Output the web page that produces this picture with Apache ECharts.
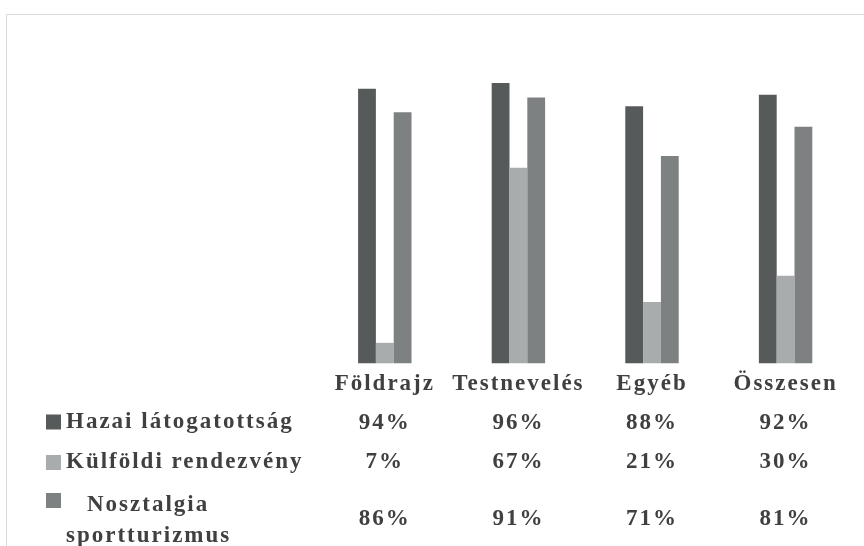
<!DOCTYPE html>
<html>
<head>
<meta charset="utf-8">
<script src="https://cdn.jsdelivr.net/npm/echarts@6/dist/echarts.min.js"></script>
<style>
html, body { margin: 0; padding: 0; background: #ffffff; }
#main { width: 864px; height: 546px; }
</style>
</head>
<body>
<div id="main"></div>
<script>
// ---- data ----
const categories = ['Földrajz', 'Testnevelés', 'Egyéb', 'Összesen'];
const seriesNames = ['Hazai látogatottság', 'Külföldi rendezvény', 'Nosztalgia sportturizmus'];
const hazai = [0.94, 0.96, 0.88, 0.92];
const kulfoldi = [0.07, 0.67, 0.21, 0.30];
const nosztalgia = [0.86, 0.91, 0.71, 0.81];
const seriesValues = [hazai, kulfoldi, nosztalgia];

// ---- style ----
const colors = ['#575a5b', '#a9acad', '#7e8182'];
const FONT = { fontFamily: 'Liberation Serif', fontSize: 23, fontWeight: 'bold', color: '#404040' };
const pct = v => Math.round(v * 100) + '%';

const chart = echarts.init(document.getElementById('main'), null, { renderer: 'canvas' });

const tableOffsets = [48.7, 87.2, 144.2];

const xAxes = [{
  type: 'category', data: categories, position: 'bottom', offset: 0,
  axisLine: { show: false }, axisTick: { show: false }, splitLine: { show: false },
  axisLabel: Object.assign({}, FONT, { margin: 9, interval: 0, lineHeight: 23 })
}];
seriesValues.forEach((vals, k) => {
  xAxes.push({
    type: 'category', data: categories, position: 'bottom', offset: tableOffsets[k],
    axisLine: { show: false }, axisTick: { show: false }, splitLine: { show: false },
    axisLabel: Object.assign({}, FONT, { margin: 0, interval: 0, lineHeight: 23,
      formatter: (v, i) => pct(vals[i]) })
  });
});

const option = {
  animation: false,
  backgroundColor: '#ffffff',
  graphic: [{
    type: 'rect', z: -10, silent: true,
    shape: { x: 6.5, y: 14.5, width: 900, height: 600 },
    style: { fill: 'none', stroke: '#d9d9d9', lineWidth: 1 }
  }],
  grid: { left: 318, right: 11.6, top: 71.3, bottom: 182.7, containLabel: false, outerBoundsMode: 'none' },
  legend: [{
    data: [seriesNames[0], seriesNames[1]],
    orient: 'vertical', left: 46, top: 410.5, padding: 0,
    itemWidth: 15, itemHeight: 15, itemGap: 17.5, icon: 'rect', selectedMode: false,
    textStyle: Object.assign({}, FONT, { lineHeight: 23 })
  }, {
    data: [seriesNames[2]],
    orient: 'vertical', left: 46, top: 449, padding: 0,
    itemWidth: 15, itemHeight: 15, icon: 'rect', selectedMode: false,
    formatter: name => {
      const parts = name.split(' ');
      return '{s| }\n{a|' + parts[0] + '}\n{b|' + parts[1] + '}';
    },
    textStyle: Object.assign({}, FONT, {
      lineHeight: 31,
      rich: {
        s: Object.assign({}, FONT, { lineHeight: 41 }),
        a: Object.assign({}, FONT, { lineHeight: 31, padding: [0, 0, 0, 21] }),
        b: Object.assign({}, FONT, { lineHeight: 31 })
      }
    })
  }],
  xAxis: xAxes,
  yAxis: { type: 'value', min: 0, max: 1, show: false },
  series: seriesValues.map((vals, k) => ({
    name: seriesNames[k],
    type: 'bar',
    xAxisIndex: 0,
    data: vals,
    barGap: '0%',
    barCategoryGap: '60%',
    itemStyle: { color: colors[k] },
    silent: true
  }))
};

chart.setOption(option);

// widen the text tracking like the reference's table text
try {
  const zr = chart.getZr();
  const painter = zr.painter;
  const layers = painter.getLayers ? painter.getLayers() : {};
  Object.keys(layers).forEach(k => { if (layers[k].ctx) layers[k].ctx.letterSpacing = '2px'; });
  painter.refresh(true);
} catch (e) { /* keep default tracking */ }
</script>
</body>
</html>
